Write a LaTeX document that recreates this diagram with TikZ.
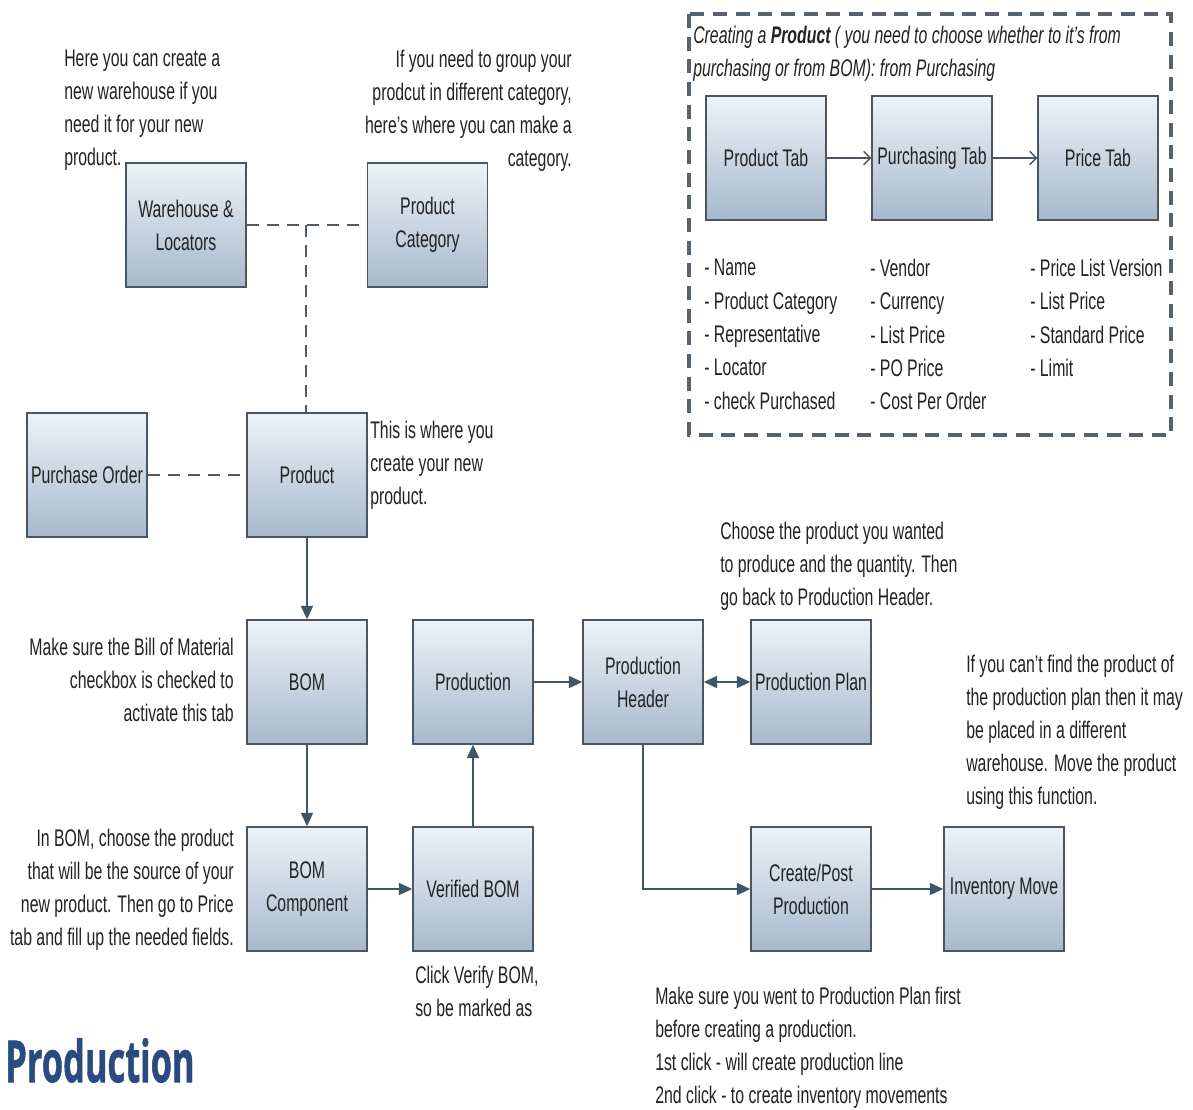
\documentclass[tikz,border=0pt]{standalone}
\usepackage{fontspec}
\setmainfont{Liberation Sans}[FakeStretch=0.66]
\newfontfamily\headfont{Open Sans}[BoldFeatures={FakeBold=1.2}]
\usetikzlibrary{arrows.meta}
\definecolor{boxtop}{HTML}{EEF2F8}
\definecolor{boxbot}{HTML}{A6B9CD}
\definecolor{boxborder}{HTML}{4B5661}
\definecolor{arrowc}{HTML}{3E5567}
\definecolor{dashc}{HTML}{505A64}
\definecolor{frame}{HTML}{56636E}
\definecolor{txt}{HTML}{222222}
\definecolor{prodblue}{HTML}{2A4A80}
\tikzset{
  txtfont/.style={font=\fontsize{18}{24.75}\selectfont, text=txt},
  box/.style={draw=boxborder, line width=1.1pt, top color=boxtop, bottom color=boxbot,
    minimum width=90pt, minimum height=93pt, align=center, inner sep=2pt, txtfont},
  notel/.style={inner sep=0pt, align=left, anchor=north west, txtfont},
  noter/.style={inner sep=0pt, align=right, anchor=north east, txtfont},
  conn/.style={draw=arrowc, line width=1.2pt, -{Triangle[length=10pt,width=9pt]}},
  dconn/.style={draw=arrowc, line width=1.2pt, {Triangle[length=10pt,width=9pt]}-{Triangle[length=10pt,width=9pt]}},
  dashline/.style={draw=dashc, line width=1.3pt, dash pattern=on 9pt off 6pt},
  openarrow/.style={draw=boxborder, line width=1pt, -{Straight Barb[length=5pt,width=10pt]}},
}
\begin{document}
\begin{tikzpicture}[x=0.75pt,y=-0.75pt]
\useasboundingbox (0,0) rectangle (1193,1110);
\fill[white] (0,0) rectangle (1193,1110);

% dashed frame top right
\draw[frame, line width=2.8pt, dash pattern=on 10.5pt off 6.5pt] (689,14) rectangle (1171,435);
\node[notel, font=\fontsize{18}{24.75}\selectfont\itshape] (title) at (693,26)
  {Creating a \textbf{Product} ( you need to choose whether to it's from\\purchasing or from BOM): from Purchasing};

% boxes
\node[box] (ptab) at (766,158) {Product Tab};
\node[box] (purtab) at (932,158) {Purchasing Tab};
\node[box] (pricetab) at (1098,158) {Price Tab};

\node[box] (wh) at (186,225) {Warehouse \&\\Locators};
\node[box] (pc) at (427.5,225) {Product\\Category};
\node[box] (po) at (87,475) {Purchase Order};
\node[box] (prod) at (307,475) {Product};
\node[box] (bom) at (307,682) {BOM};
\node[box] (prodn) at (473,682) {Production};
\node[box] (ph) at (643,682) {Production\\Header};
\node[box] (pp) at (811,682) {Production Plan};
\node[box] (bomc) at (307,889) {BOM\\Component};
\node[box] (vbom) at (473,889) {Verified BOM};
\node[box] (cpp) at (811,889) {Create/Post\\Production};
\node[box] (im) at (1004,889) {Inventory Move};

% lists
\node[notel, font=\fontsize{18}{25}\selectfont] (l1) at (704,259)
  {- Name\\- Product Category\\- Representative\\- Locator\\- check Purchased};
\node[notel, font=\fontsize{18}{25}\selectfont] (l2) at (870,259)
  {- Vendor\\- Currency\\- List Price\\- PO Price\\- Cost Per Order};
\node[notel, font=\fontsize{18}{25}\selectfont] (l3) at (1030,259)
  {- Price List Version\\- List Price\\- Standard Price\\- Limit};

% annotations
\node[notel] (n1) at (64,50) {Here you can create a\\new warehouse if you\\need it for your new\\product.};
\node[noter] (n2) at (572,50) {If you need to group your\\prodcut in different category,\\here's where you can make a\\category.};
\node[notel] (n3) at (370,421) {This is where you\\create your new\\product.};
\node[noter] (n4) at (234,638) {Make sure the Bill of Material\\checkbox is checked to\\activate this tab};
\node[notel] (n5) at (720,522) {Choose the product you wanted\\to produce and the quantity. Then\\go back to Production Header.};
\node[notel] (n6) at (966,655) {If you can't find the product of\\the production plan then it may\\be placed in a different\\warehouse. Move the product\\using this function.};
\node[noter] (n7) at (234,829) {In BOM, choose the product\\that will be the source of your\\new product. Then go to Price\\tab and fill up the needed fields.};
\node[notel] (n8) at (415,966) {Click Verify BOM,\\so be marked as};
\node[notel] (n9) at (655,987) {Make sure you went to Production Plan first\\before creating a production.\\1st click - will create production line\\2nd click - to create inventory movements};

\node[inner sep=0pt, anchor=south west, text=prodblue] (head) at (5,1083)
  {\resizebox{142pt}{33pt}{\headfont\bfseries Production}};

% connectors
\coordinate (j1) at (306,225);
\draw[dashline] (wh.east) -- (pc.west);
\draw[dashline] (j1) -- (prod.north -| j1);
\draw[dashline] (po.east) -- (prod.west);
\draw[conn] (prod.south) -- (bom.north);
\draw[conn] (bom.south) -- (bomc.north);
\draw[conn] (bomc.east) -- (vbom.west);
\draw[conn] (vbom.north) -- (prodn.south);
\draw[conn] (prodn.east) -- (ph.west);
\draw[dconn] (ph.east) -- (pp.west);
\draw[conn] (ph.south) |- (cpp.west);
\draw[conn] (cpp.east) -- (im.west);
\draw[openarrow] (ptab.east) -- (purtab.west);
\draw[openarrow] (purtab.east) -- (pricetab.west);
\end{tikzpicture}
\end{document}
